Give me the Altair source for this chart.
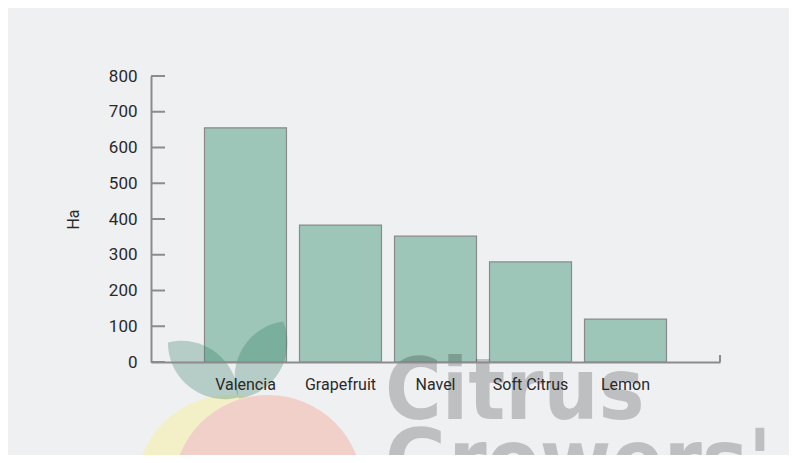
import altair as alt
import pandas as pd

categories = ["Valencia", "Grapefruit", "Navel", "Soft Citrus", "Lemon"]
hectares = [655, 383, 352, 280, 120]
y_ticks = [0, 100, 200, 300, 400, 500, 600, 700, 800]

W, H = 569, 286
AXIS_COLOR = "#8c8c8c"
FONT = "Roboto"

df = pd.DataFrame({"cat": categories, "ha": hectares})
ticks_df = pd.DataFrame({"ha": y_ticks})
one = alt.Data(values=[{"k": 1}])

yscale = alt.Scale(domain=[0, 800], nice=False)
yaxis = alt.Axis(title="Ha", values=y_ticks, ticks=False, labelPadding=14,
                 labelOverlap=False, tickCount=9,
                 domainColor=AXIS_COLOR, domainWidth=2, labelFontSize=17,
                 labelColor="#2a2a2a", labelFont=FONT, grid=False,
                 titleFont=FONT, titleFontSize=16, titleFontWeight="normal",
                 titleColor="#2a2a2a", titleX=-78, titleY=143,
                 titleBaseline="middle", zindex=1)

bars = alt.Chart(df).mark_bar(color="#9dc5b8", stroke="#8a8a8a", strokeWidth=1.2).encode(
    x=alt.X("cat:N", sort=categories,
            scale=alt.Scale(paddingInner=0.137, paddingOuter=0.563),
            axis=alt.Axis(title=None, labelAngle=0, ticks=False, labelPadding=14,
                          domainColor=AXIS_COLOR, domainWidth=2, labelFontSize=16,
                          labelColor="#2a2a2a", labelFont=FONT, zindex=1)),
    y=alt.Y("ha:Q", scale=yscale, axis=yaxis),
)

inner_ticks = alt.Chart(ticks_df).mark_rule(color=AXIS_COLOR, strokeWidth=2).encode(
    y=alt.Y("ha:Q", scale=yscale, axis=yaxis), x=alt.value(0), x2=alt.value(14)
)

end_tick = alt.Chart(one).mark_rule(color=AXIS_COLOR, strokeWidth=2).encode(
    x=alt.value(W), y=alt.value(H - 7), y2=alt.value(H)
)

# watermark logo
yellow = alt.Chart(one).mark_point(shape="circle", filled=True, opacity=1, color="#f3f0c8", size=35344).encode(
    x=alt.value(79), y=alt.value(413))
pink = alt.Chart(one).mark_point(shape="circle", filled=True, opacity=1, color="#f0d0c8", size=36100).encode(
    x=alt.value(117), y=alt.value(414))
white = alt.Chart(one).mark_point(shape="circle", filled=True, opacity=1, color="#ffffff", size=8464).encode(
    x=alt.value(111), y=alt.value(427))
LEAF = "M -1 0 C -0.5 -0.65 0.5 -0.65 1 0 C 0.5 0.65 -0.5 0.65 -1 0 Z"
leaf1 = alt.Chart(one).mark_point(shape=LEAF, filled=True, color="#2f7f5f", opacity=0.3, size=7921, angle=38).encode(
    x=alt.value(52), y=alt.value(294))
leaf2 = alt.Chart(one).mark_point(shape=LEAF, filled=True, color="#2f7f5f", opacity=0.3, size=7921, angle=300).encode(
    x=alt.value(110), y=alt.value(284))
WFONT = "DejaVu Sans Condensed, Roboto"
citrus = alt.Chart(one).mark_text(text="Citrus", font=WFONT, fontWeight="bold", fontSize=86,
                                  align="left", baseline="alphabetic", color="#000000", opacity=0.2).encode(
    x=alt.value(234), y=alt.value(343))
growers = alt.Chart(one).mark_text(text="Growers'", font=WFONT, fontWeight="bold", fontSize=86,
                                   align="left", baseline="alphabetic", color="#000000", opacity=0.2).encode(
    x=alt.value(234), y=alt.value(414))

chart = alt.layer(bars, inner_ticks, end_tick, yellow, pink, white, leaf1, leaf2, citrus, growers).properties(
    width=W, height=H,
    autosize=alt.AutoSizeParams(type="none"),
    padding={"left": 143, "top": 68, "right": 69, "bottom": 93},
    background="#eff0f2",
).configure_view(stroke=None).configure_axisY(labelOverlap=False)

chart.save("out.html", embed_options={"renderer": "svg", "actions": False})
